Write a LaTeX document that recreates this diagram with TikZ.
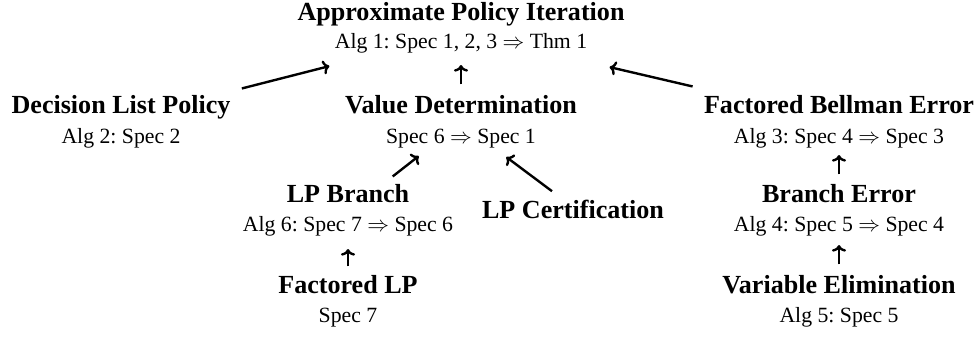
\documentclass[tikz,border=0pt]{standalone}
\usepackage{fontspec}
\setmainfont{Liberation Serif}
\usetikzlibrary{calc,arrows.meta}
\frenchspacing
\begin{document}
\begin{tikzpicture}[x=0.46pt,y=-0.46pt,
  ttl/.style={anchor=base,inner sep=0pt,font=\large\bfseries},
  sub/.style={anchor=base,inner sep=0pt},
  arr/.style={-{To[length=3pt,width=6.5pt]},line width=1.1pt}]
\useasboundingbox (0,0) rectangle (980,337);

% top level
\node[ttl] (api) at (461,21) {Approximate Policy Iteration};
\node[sub] (api-s) at (461,49) {Alg 1: Spec 1, 2, 3 $\Rightarrow$ Thm 1};

% second row
\node[ttl] (dlp) at (121,114) {Decision List Policy};
\node[sub] (dlp-s) at (121,144) {Alg 2: Spec 2};
\node[ttl] (vd) at (461,114) {Value Determination};
\node[sub] (vd-s) at (461,144) {Spec 6 $\Rightarrow$ Spec 1};
\node[ttl] (fbe) at (839,114) {Factored Bellman Error};
\node[sub] (fbe-s) at (839,144) {Alg 3: Spec 4 $\Rightarrow$ Spec 3};

% third row
\node[ttl] (lpb) at (348,203) {LP Branch};
\node[sub] (lpb-s) at (348,232) {Alg 6: Spec 7 $\Rightarrow$ Spec 6};
\node[ttl] (lpc) at (573,219) {LP Certification};
\node[ttl] (be) at (839,203) {Branch Error};
\node[sub] (be-s) at (839,232) {Alg 4: Spec 5 $\Rightarrow$ Spec 4};

% bottom row
\node[ttl] (flp) at (348,294) {Factored LP};
\node[sub] (flp-s) at (348,323) {Spec 7};
\node[ttl] (ve) at (839,294) {Variable Elimination};
\node[sub] (ve-s) at (839,323) {Alg 5: Spec 5};

% dependencies
\draw[arr] ($(dlp.north east)+(11,-7)$) -- ($(api-s.south west)+(-5,12)$);
\draw[arr] ($(vd.north)+(0,-11)$) -- ($(api-s.south)+(0,11)$);
\draw[arr] ($(fbe.north west)+(-11,-9)$) -- ($(api-s.south east)+(22,13)$);
\draw[arr] ($(lpb.north east)+(-17,-8)$) -- ($(vd-s.south west)+(33,7)$);
\draw[arr] ($(lpc.north)+(-21,-9)$) -- ($(vd-s.south east)+(-30,8)$);
\draw[arr] ($(flp.north)+(0,-9)$) -- ($(lpb-s.south)+(0,12)$);
\draw[arr] ($(be.north)+(0,-10)$) -- ($(fbe-s.south)+(0,6)$);
\draw[arr] ($(ve.north)+(0,-11)$) -- ($(be-s.south)+(0,8)$);
\end{tikzpicture}
\end{document}
